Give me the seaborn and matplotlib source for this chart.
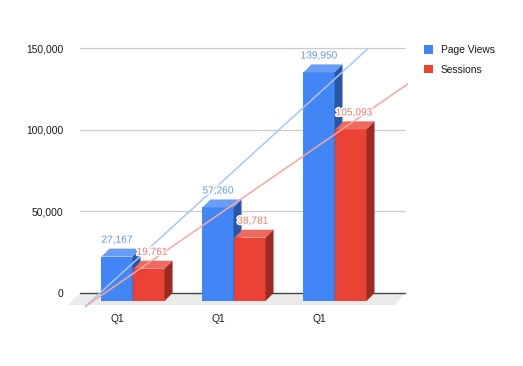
import numpy as np
import pandas as pd
import matplotlib
matplotlib.use("Agg")
import matplotlib.pyplot as plt
import seaborn as sns
from matplotlib.patches import Polygon, Patch
from matplotlib.transforms import ScaledTranslation
import matplotlib.patheffects as pe

# ---- data ----
categories = ["Q1", "Q1", "Q1"]
series = ["Page Views", "Sessions"]
page_views = [27167, 57260, 139950]
sessions = [19761, 38781, 105093]
yticks = [0, 50000, 100000, 150000]

front_colors = {"Page Views": "#4285F4", "Sessions": "#EA4335"}
top_colors = {"Page Views": "#6A9DF6", "Sessions": "#EE6A5F"}
side_colors = {"Page Views": "#2A56A8", "Sessions": "#9C2A22"}
label_colors = {"Page Views": "#5E96F6", "Sessions": "#F0776C"}
trend_colors = {"Page Views": "#A9C6FA", "Sessions": "#F5A7A0"}

df = pd.DataFrame({
    "idx": list(range(len(categories))) * 2,
    "series": [series[0]] * len(page_views) + [series[1]] * len(sessions),
    "value": page_views + sessions,
})

sns.set_theme(style="white")
plt.rcParams["font.family"] = ["Liberation Sans", "DejaVu Sans"]

W, H = 523, 366
fig = plt.figure(figsize=(W / 100, H / 100), dpi=100)
ax = fig.add_axes([80 / W, 1 - 310 / H, (408 - 80) / W, (310 - 48) / H])

sns.barplot(data=df, x="idx", y="value", hue="series", palette=front_colors,
            hue_order=series, width=0.634, gap=0.03, errorbar=None,
            legend=False, ax=ax, saturation=1, linewidth=0)

ax.set_xlim(-0.525, 2.723)
ax.set_ylim(-10408, 150000)

# pixel -> data conversion
bbox = ax.get_window_extent()
px_x = (ax.get_xlim()[1] - ax.get_xlim()[0]) / bbox.width
px_y = (ax.get_ylim()[1] - ax.get_ylim()[0]) / bbox.height
dx = 8 * px_x
dy = 8 * px_y

# floor
fx0, fx1 = ax.get_xlim()[0], ax.get_xlim()[0] + 325 * px_x
floor = Polygon([(fx0, 0), (fx1, 0), (fx1 - 10 * px_x, -12 * px_y),
                 (fx0 - 12 * px_x, -12 * px_y)], closed=True,
                facecolor="#EBEBEB", edgecolor="none", zorder=0.3, clip_on=False)
ax.add_patch(floor)

# gridlines
for t in yticks[1:]:
    ax.plot([fx0, fx1], [t, t], color="#CCCCCC", lw=0.9, zorder=0.5, clip_on=False)
ax.plot([fx0, fx1], [0, 0], color="#444444", lw=1.0, zorder=0.6, clip_on=False)

# 3D bars
bars = [p for p in ax.patches if p is not floor]
fc_map = {matplotlib.colors.to_hex(v): k for k, v in front_colors.items()}
for p in bars:
    name = fc_map.get(matplotlib.colors.to_hex(p.get_facecolor()), None)
    if name is None:
        continue
    z = 2 if name == series[0] else 3
    x0, w, h = p.get_x(), p.get_width(), p.get_height()
    p.set_y(-dy)
    p.set_zorder(z)
    p.set_clip_on(False)
    top = Polygon([(x0, h - dy), (x0 + w, h - dy), (x0 + w + dx, h), (x0 + dx, h)],
                  closed=True, facecolor=top_colors[name], edgecolor="none",
                  zorder=z + 0.1, clip_on=False)
    side = Polygon([(x0 + w, -dy), (x0 + w, h - dy), (x0 + w + dx, h), (x0 + w + dx, 0)],
                   closed=True, facecolor=side_colors[name], edgecolor="none",
                   zorder=z + 0.1, clip_on=False)
    ax.add_patch(top)
    ax.add_patch(side)
    ax.text(x0 + w / 2 + (3 * px_x if name == series[1] else 0), h + 4 * px_y,
            f"{int(round(h)):,}", ha="center", va="bottom", fontsize=7.3,
            color=label_colors[name], zorder=6,
            path_effects=[pe.withStroke(linewidth=2.2, foreground="white")])

# trendlines (linear fit)
xs = np.arange(len(categories))
xl = np.linspace(-0.47, ax.get_xlim()[1], 50)
for name, vals in zip(series, [page_views, sessions]):
    m, b = np.polyfit(xs, vals, 1)
    ax.plot(xl, m * xl + b, color=trend_colors[name], lw=1.1, zorder=4,
            clip_on=True)

# axes styling
for s in ax.spines.values():
    s.set_visible(False)
ax.set_xlabel("")
ax.set_ylabel("")
ax.set_yticks(yticks)
ax.set_yticklabels([f"{t:,}" for t in yticks], fontsize=7.4, color="#1a1a1a")
ax.tick_params(axis="y", length=0, pad=12)
ax.set_xticks(xs)
ax.set_xticklabels(categories, fontsize=7.4, color="#1a1a1a")
ax.tick_params(axis="x", length=0, pad=3)
off = ScaledTranslation(-16 / 100, 0, fig.dpi_scale_trans)
for lab in ax.get_xticklabels():
    lab.set_transform(lab.get_transform() + off)
ax.grid(False)

handles = [Patch(facecolor=front_colors[s], edgecolor="none") for s in series]
fig.legend(handles, series, loc="upper left",
           bbox_to_anchor=(424 / W, 1 - 45 / H), frameon=False, fontsize=7.4,
           handlelength=0.9, handleheight=0.9, handletextpad=0.75,
           labelspacing=0.95, borderpad=0, borderaxespad=0,
           labelcolor="#1a1a1a")

fig.savefig("out.png", dpi=100)
